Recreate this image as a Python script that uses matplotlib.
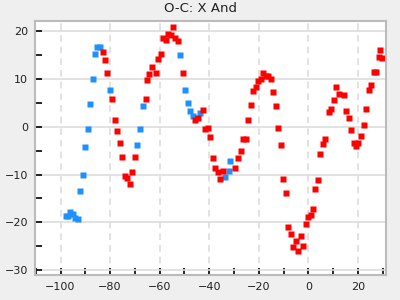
import matplotlib
matplotlib.use("Agg")
import matplotlib.pyplot as plt
from matplotlib.ticker import MultipleLocator

title = "O-C: X And"

blue_x = [-97.6, -96.8, -96.3, -95.1, -94.3, -93.1, -92.2, -91.0, -90.2, -89.0, -88.2, -86.9, -86.1,
          -85.1, -83.9, -80.0, -69.0, -67.8, -66.9, -51.8, -49.8, -48.6, -47.8, -46.5, -43.7,
          -33.5, -32.2, -31.4]
blue_y = [-18.7, -18.7, -17.9, -18.3, -19.1, -19.3, -13.5, -10.0, -4.3, -0.4, 4.8, 10.0, 15.25,
          16.7, 16.7, 7.75, -3.9, -0.4, 4.4, 15.0, 7.75, 5.0, 3.2, 2.3, 2.96,
          -10.6, -9.3, -7.25]

red_x = [-82.9, -82.0, -81.2, -79.2, -78.0, -77.1, -75.9, -75.1, -73.9, -73.1, -71.8, -71.0, -69.8,
         -65.7, -64.9, -64.1, -62.9, -61.6, -60.8, -59.6, -58.8, -57.6, -56.7, -55.5, -54.7,
         -53.9, -52.7, -50.6, -45.7, -44.5, -42.4, -41.6, -40.4, -39.6, -38.4, -37.6, -36.3,
         -35.5, -34.3, -29.4, -28.2, -27.3, -26.5, -25.3, -24.5, -23.3, -22.4, -21.2, -20.4,
         -19.2, -18.4, -17.1, -16.3, -15.1, -14.3, -13.1, -12.2, -11.0, -10.2, -9.0, -8.2,
         -6.9, -6.1, -4.9, -4.1, -2.9, -2.0, -0.8, 0.0, 1.2, 2.0, 2.9, 4.1, 4.9, 6.1, 6.9,
         8.2, 9.0, 10.2, 11.0, 12.2, 14.3, 15.1, 16.3, 17.1, 18.4, 19.2, 20.0, 21.2, 22.4,
         23.3, 24.5, 25.3, 26.5, 27.3, 28.6, 29.0, 29.8]
red_y = [15.7, 14.0, 11.3, 5.7, 1.3, -0.8, -3.5, -6.4, -10.4, -10.8, -12.0, -9.5, -6.4,
         5.7, 9.8, 11.1, 12.5, 11.3, 14.2, 15.25, 18.6, 18.2, 19.4, 19.2, 20.9,
         18.6, 18.0, 11.3, 1.5, 1.9, 3.4, -0.4, -0.2, -2.25, -6.6, -8.7, -9.5,
         -11.0, -9.3, -8.7, -6.6, -5.0, -2.5, -2.5, 1.3, 4.6, 7.5, 8.2, 9.6,
         10.0, 11.3, 10.7, 10.7, 10.0, 7.3, 4.4, -0.2, -3.9, -11.0, -13.9, -21.0,
         -22.5, -25.2, -23.9, -26.0, -22.9, -25.0, -20.4, -18.9, -18.5, -17.25, -13.1, -11.2, -5.6, -3.7, -2.5,
         3.0, 3.8, 5.5, 8.2, 6.9, 6.7, 3.2, 1.9, -0.6, -3.3, -4.1, -3.3, -2.0, 0.46,
         3.8, 7.75, 8.8, 11.5, 11.5, 14.6, 16.1, 14.4]

fig = plt.figure(figsize=(4, 3), dpi=100, facecolor="#efefef")
ax = fig.add_axes([0.0875, 0.0833, 0.8765, 0.8467])
ax.set_facecolor("white")

ax.set_xlim(-110.3, 31.2)
ax.set_ylim(-31.0, 22.1)

ax.xaxis.set_major_locator(MultipleLocator(20))
ax.xaxis.set_minor_locator(MultipleLocator(10))
ax.yaxis.set_major_locator(MultipleLocator(10))
ax.yaxis.set_minor_locator(MultipleLocator(5))

ax.grid(axis="x", which="major", color="#dddddd", linestyle=(0, (4, 3)), linewidth=1.2)
ax.grid(axis="y", which="major", color="#dddddd", linestyle="-", linewidth=1.2)
ax.set_axisbelow(True)

ax.tick_params(axis="both", which="both", direction="in", length=5, width=1.2, color="black",
               labelsize=8, labelcolor="#222222", top=False, right=False)
ax.tick_params(axis="x", pad=5)
ax.tick_params(axis="y", pad=5)

for sp in ax.spines.values():
    sp.set_color("#bbbbbb")
    sp.set_linewidth(1.5)

ax.plot(blue_x, blue_y, linestyle="none", marker="s", ms=4, color="#1e90ff", mec="none")
ax.plot(red_x, red_y, linestyle="none", marker="s", ms=4, color="#ff0000", mec="none")

fig.text(0.5, 0.972, title, ha="center", va="center", fontsize=9.5, color="#222222")

fig.savefig("out.png", dpi=100, facecolor=fig.get_facecolor())
